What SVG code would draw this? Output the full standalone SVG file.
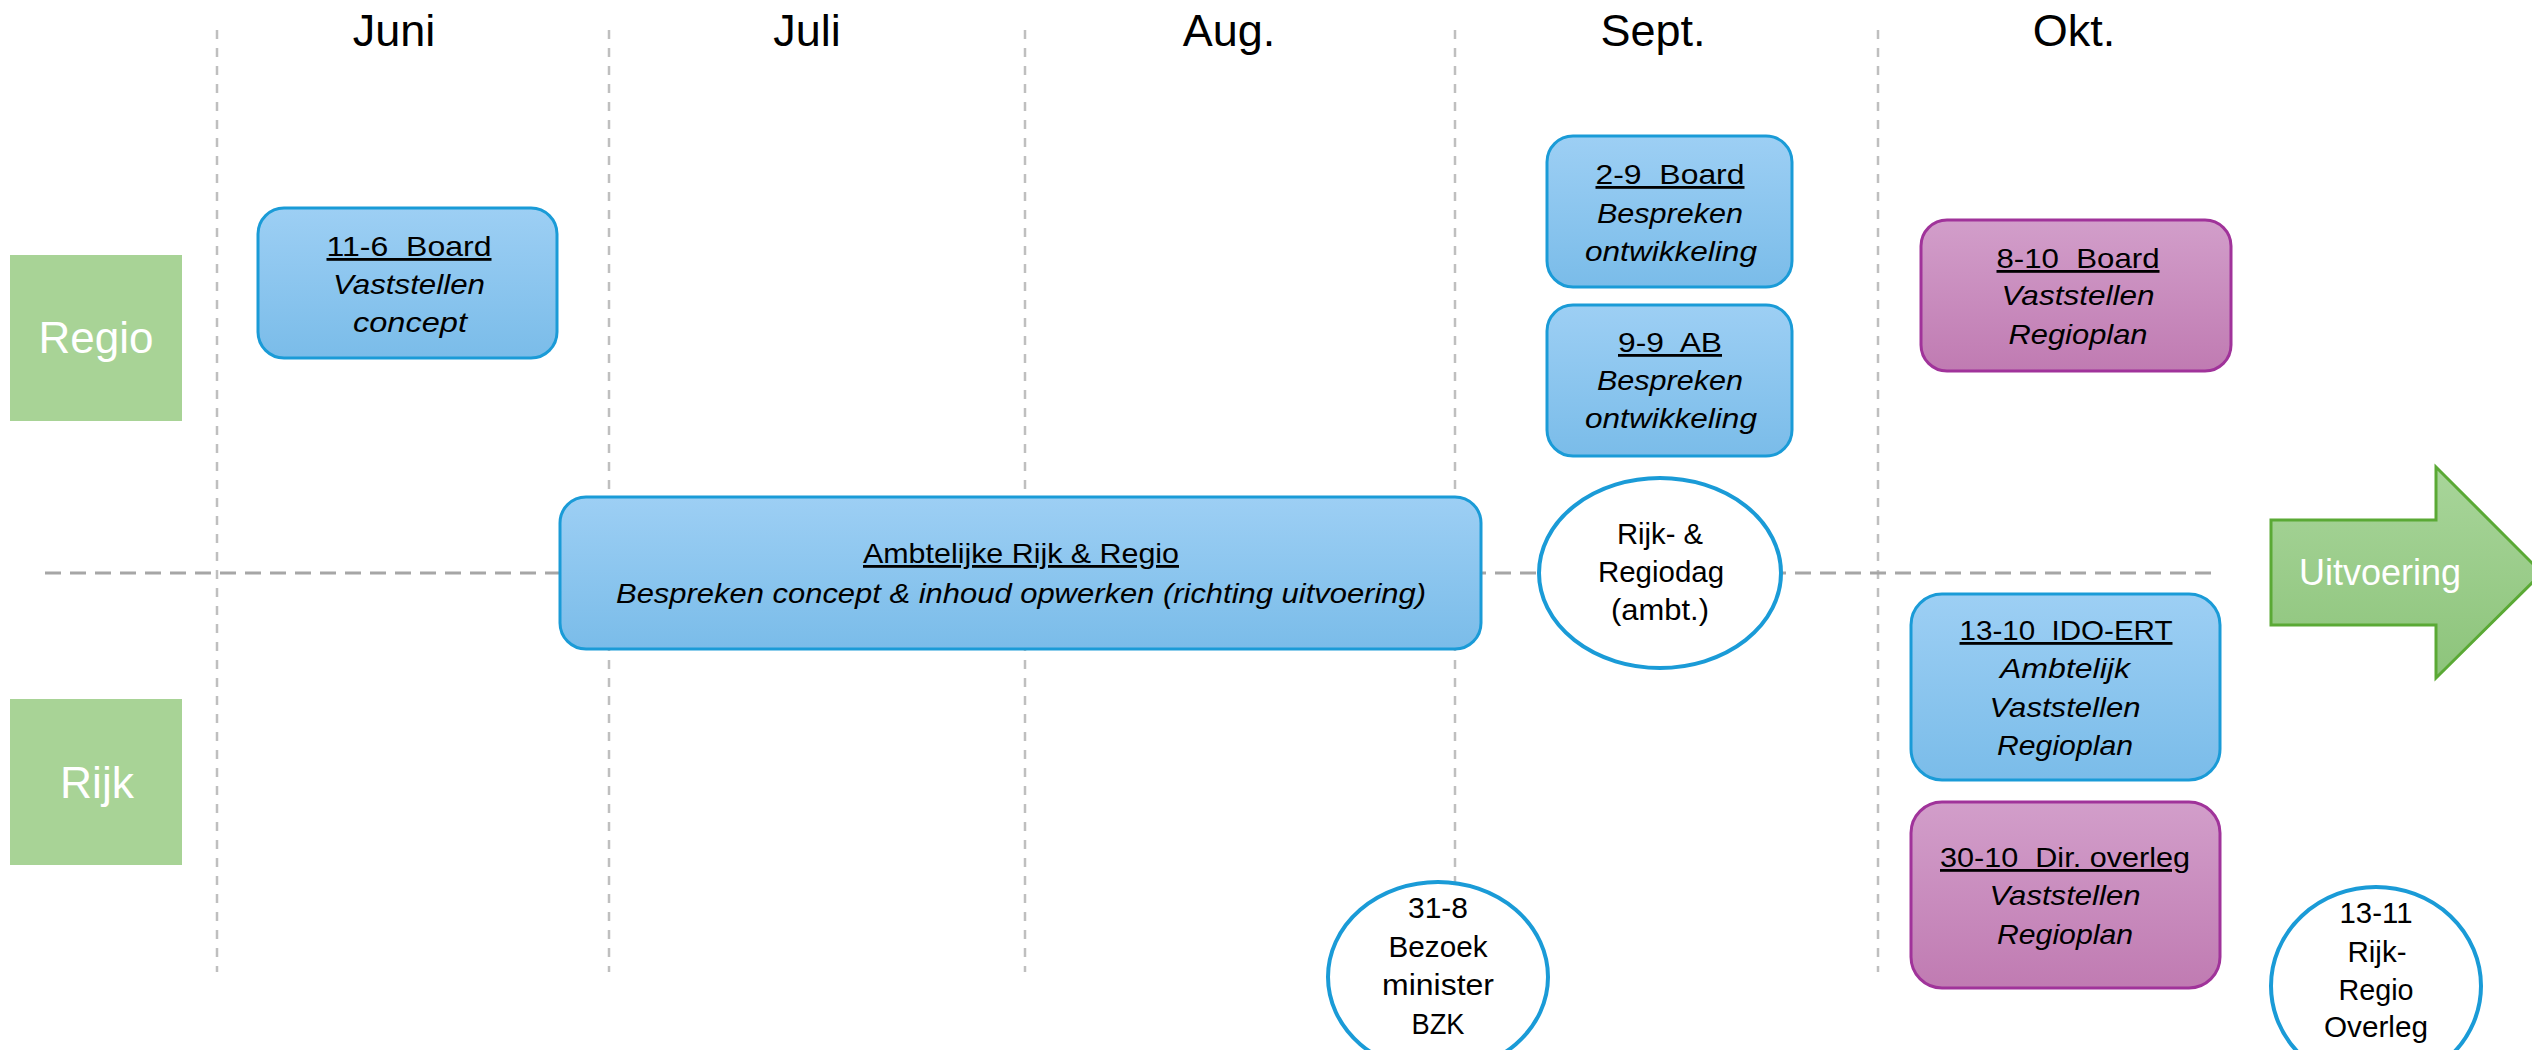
<svg xmlns="http://www.w3.org/2000/svg" width="2532" height="1050" viewBox="0 0 2532 1050">
<defs>
<linearGradient id="gBlue" x1="0" y1="0" x2="0" y2="1">
<stop offset="0" stop-color="#9DCFF4"/>
<stop offset="1" stop-color="#7ABCE9"/>
</linearGradient>
<linearGradient id="gPurple" x1="0" y1="0" x2="0" y2="1">
<stop offset="0" stop-color="#D29ECA"/>
<stop offset="1" stop-color="#C07BB2"/>
</linearGradient>
<linearGradient id="gGreen" x1="0" y1="0" x2="0" y2="1">
<stop offset="0" stop-color="#A8D59A"/>
<stop offset="1" stop-color="#8DC47B"/>
</linearGradient>
</defs>
<style>
.vline{stroke:#BFBFBF;stroke-width:2.5;stroke-dasharray:9 9;fill:none}
.hline{stroke:#A6A6A6;stroke-width:3;stroke-dasharray:16 9;fill:none}
.blue{fill:url(#gBlue);stroke:#1A9BD7;stroke-width:3}
.purple{fill:url(#gPurple);stroke:#A0339A;stroke-width:3}
.circ{fill:#FFFFFF;stroke:#1A9BD7;stroke-width:4}
.lane{fill:#A8D396}
.month{font-family:"Liberation Sans",Arial,sans-serif;font-size:45px;fill:#000;text-anchor:middle}
.lanet{font-family:"Liberation Sans",Arial,sans-serif;font-size:44px;fill:#FFFFFF;text-anchor:middle}
.t{font-family:"Liberation Sans",Arial,sans-serif;font-size:28px;fill:#000;text-anchor:middle;white-space:pre}
.u{text-decoration:underline}
.i{font-style:italic}
.c{font-family:"Liberation Sans",Arial,sans-serif;font-size:30px;fill:#000;text-anchor:middle}
.arrowt{font-family:"Liberation Sans",Arial,sans-serif;font-size:36px;fill:#FFFFFF;text-anchor:middle}
</style>
<rect width="2532" height="1050" fill="#FFFFFF"/>

<g id="connectors">
<line class="vline" x1="217" y1="30" x2="217" y2="972"/>
<line class="vline" x1="609" y1="30" x2="609" y2="972"/>
<line class="vline" x1="1025" y1="30" x2="1025" y2="972"/>
<line class="vline" x1="1455" y1="30" x2="1455" y2="972"/>
<line class="vline" x1="1878" y1="30" x2="1878" y2="972"/>
<line class="hline" x1="45" y1="573" x2="2220" y2="573"/>
</g>

<g id="months">
<text class="month" x="394" y="46">Juni</text>
<text class="month" x="807" y="46">Juli</text>
<text class="month" x="1229" y="46">Aug.</text>
<text class="month" x="1653" y="46">Sept.</text>
<text class="month" x="2074" y="46">Okt.</text>
</g>

<g id="lane-regio">
<rect class="lane" x="10" y="255" width="172" height="166"/>
<text class="lanet" x="96" y="353" textLength="115" lengthAdjust="spacingAndGlyphs">Regio</text>
</g>
<g id="lane-rijk">
<rect class="lane" x="10" y="699" width="172" height="166"/>
<text class="lanet" x="97" y="798" textLength="74" lengthAdjust="spacingAndGlyphs">Rijk</text>
</g>

<g id="node-11-6">
<rect class="blue" x="258" y="208" width="299" height="150" rx="26"/>
<text class="t u" xml:space="preserve" x="409" y="256" textLength="165" lengthAdjust="spacingAndGlyphs">11-6  Board</text>
<text class="t i" x="409" y="294" textLength="152" lengthAdjust="spacingAndGlyphs">Vaststellen</text>
<text class="t i" x="410" y="332" textLength="114" lengthAdjust="spacingAndGlyphs">concept</text>
</g>

<g id="node-ambtelijk">
<rect class="blue" x="560" y="497" width="921" height="152" rx="26"/>
<text class="t u" x="1021" y="563" textLength="316" lengthAdjust="spacingAndGlyphs">Ambtelijke Rijk &amp; Regio</text>
<text class="t i" x="1021" y="603" textLength="810" lengthAdjust="spacingAndGlyphs">Bespreken concept &amp; inhoud opwerken (richting uitvoering)</text>
</g>

<g id="node-2-9">
<rect class="blue" x="1547" y="136" width="245" height="151" rx="26"/>
<text class="t u" xml:space="preserve" x="1670" y="184" textLength="149" lengthAdjust="spacingAndGlyphs">2-9  Board</text>
<text class="t i" x="1670" y="223" textLength="146" lengthAdjust="spacingAndGlyphs">Bespreken</text>
<text class="t i" x="1671" y="261" textLength="172" lengthAdjust="spacingAndGlyphs">ontwikkeling</text>
</g>

<g id="node-9-9">
<rect class="blue" x="1547" y="305" width="245" height="151" rx="26"/>
<text class="t u" xml:space="preserve" x="1670" y="352" textLength="104" lengthAdjust="spacingAndGlyphs">9-9  AB</text>
<text class="t i" x="1670" y="390" textLength="146" lengthAdjust="spacingAndGlyphs">Bespreken</text>
<text class="t i" x="1671" y="428" textLength="172" lengthAdjust="spacingAndGlyphs">ontwikkeling</text>
</g>

<g id="node-8-10">
<rect class="purple" x="1921" y="220" width="310" height="151" rx="26"/>
<text class="t u" xml:space="preserve" x="2078" y="268" textLength="163" lengthAdjust="spacingAndGlyphs">8-10  Board</text>
<text class="t i" x="2078" y="305" textLength="153" lengthAdjust="spacingAndGlyphs">Vaststellen</text>
<text class="t i" x="2078" y="344" textLength="139" lengthAdjust="spacingAndGlyphs">Regioplan</text>
</g>

<g id="node-regiodag">
<ellipse class="circ" cx="1660" cy="573" rx="121" ry="95"/>
<text class="c" x="1660" y="544" textLength="86" lengthAdjust="spacingAndGlyphs">Rijk- &amp;</text>
<text class="c" x="1661" y="582" textLength="126" lengthAdjust="spacingAndGlyphs">Regiodag</text>
<text class="c" x="1660" y="620" textLength="98" lengthAdjust="spacingAndGlyphs">(ambt.)</text>
</g>

<g id="node-13-10">
<rect class="blue" x="1911" y="594" width="309" height="186" rx="31"/>
<text class="t u" xml:space="preserve" x="2066" y="640" textLength="213" lengthAdjust="spacingAndGlyphs">13-10  IDO-ERT</text>
<text class="t i" x="2065" y="678" textLength="130" lengthAdjust="spacingAndGlyphs">Ambtelijk</text>
<text class="t i" x="2065" y="717" textLength="151" lengthAdjust="spacingAndGlyphs">Vaststellen</text>
<text class="t i" x="2065" y="755" textLength="136" lengthAdjust="spacingAndGlyphs">Regioplan</text>
</g>

<g id="node-30-10">
<rect class="purple" x="1911" y="802" width="309" height="186" rx="31"/>
<text class="t u" xml:space="preserve" x="2065" y="867" textLength="250" lengthAdjust="spacingAndGlyphs">30-10  Dir. overleg</text>
<text class="t i" x="2065" y="905" textLength="151" lengthAdjust="spacingAndGlyphs">Vaststellen</text>
<text class="t i" x="2065" y="944" textLength="136" lengthAdjust="spacingAndGlyphs">Regioplan</text>
</g>

<g id="node-31-8">
<ellipse class="circ" cx="1438" cy="977" rx="110" ry="95"/>
<text class="c" x="1438" y="918" textLength="60" lengthAdjust="spacingAndGlyphs">31-8</text>
<text class="c" x="1438" y="957" textLength="99" lengthAdjust="spacingAndGlyphs">Bezoek</text>
<text class="c" x="1438" y="995" textLength="112" lengthAdjust="spacingAndGlyphs">minister</text>
<text class="c" x="1438" y="1034" textLength="53" lengthAdjust="spacingAndGlyphs">BZK</text>
</g>

<g id="node-13-11">
<ellipse class="circ" cx="2376" cy="986" rx="105" ry="99"/>
<text class="c" x="2376" y="923" textLength="73" lengthAdjust="spacingAndGlyphs">13-11</text>
<text class="c" x="2377" y="962" textLength="59" lengthAdjust="spacingAndGlyphs">Rijk-</text>
<text class="c" x="2376" y="1000" textLength="75" lengthAdjust="spacingAndGlyphs">Regio</text>
<text class="c" x="2376" y="1037" textLength="104" lengthAdjust="spacingAndGlyphs">Overleg</text>
</g>

<g id="node-uitvoering">
<path d="M2271,520 L2436,520 L2436,467 L2542,573 L2436,678 L2436,625 L2271,625 Z" fill="url(#gGreen)" stroke="#5AA935" stroke-width="3" stroke-linejoin="miter"/>
<text class="arrowt" x="2380" y="585" textLength="162" lengthAdjust="spacingAndGlyphs">Uitvoering</text>
</g>
</svg>
